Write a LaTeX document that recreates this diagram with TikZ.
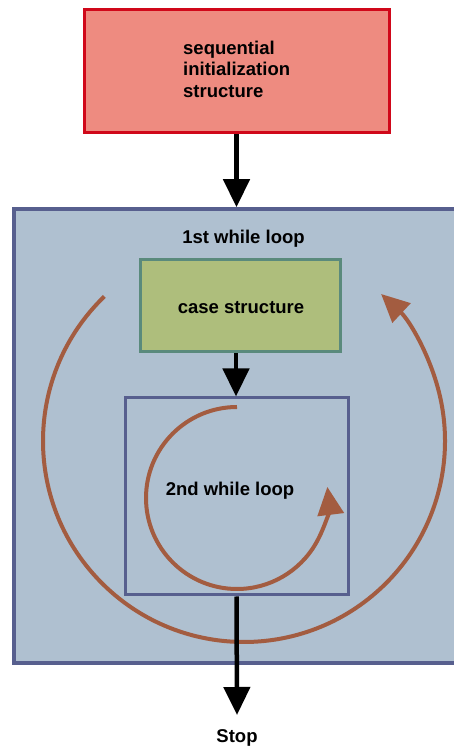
\documentclass[tikz,border=0pt]{standalone}
\usepackage{fontspec}
\setmainfont{Liberation Sans}
\usetikzlibrary{arrows.meta}

\definecolor{initfill}{HTML}{EE8B80}
\definecolor{initline}{HTML}{D0081A}
\definecolor{loopfill}{HTML}{AFC0D0}
\definecolor{loopline}{HTML}{575F8E}
\definecolor{casefill}{HTML}{AEBE7C}
\definecolor{caseline}{HTML}{5A8A7C}
\definecolor{cycle}{HTML}{A35C40}

\tikzset{
  lbl/.style={font=\fontsize{18.5}{21.5}\selectfont\bfseries, inner sep=0pt},
  box/.style={rectangle, inner sep=0pt, line width=3pt},
  flow/.style={line width=4.5pt, -{Triangle[width=26pt,length=28pt]}},
  turn/.style={cycle, line width=4pt, -{Triangle[width=26pt,length=28pt]}},
}

\begin{document}
\begin{tikzpicture}[x=1pt, y=1pt]
  \useasboundingbox (0,0) rectangle (454,746);
  \clip (0,0) rectangle (454,746);
  \fill[white] (0,0) rectangle (454,746);

  % initialization block
  \node[box, draw=initline, fill=initfill, minimum width=305pt, minimum height=123pt]
    (init) at (236.5,674.5) {};
  \node[lbl, anchor=west, align=left] (inittext) at (183,677)
    {sequential\\initialization\\structure};

  % outer loop frame, open to the right
  \node[box, line width=3.5pt, draw=loopline, fill=loopfill, minimum width=466pt, minimum height=454pt]
    (loop1) at (247,310) {};
  \node[lbl] (loop1text) at (243.5,507) {1st while loop};

  % case block
  \node[box, draw=caseline, fill=casefill, minimum width=200pt, minimum height=92pt]
    (case) at (240,440) {};
  \node[lbl] (casetext) at (241,438) {case structure};

  % inner loop frame
  \node[box, draw=loopline, minimum width=223pt, minimum height=197pt]
    (loop2) at (236.5,249.5) {};
  \node[lbl] (loop2text) at (230,255) {2nd while loop};

  \node[lbl] (stop) at (237,8) {Stop};
  \coordinate (stoptip) at (237,31);

  % iteration arcs
  \coordinate (outerc) at (244,305);
  \coordinate (innerc) at (237,248);
  \draw[turn] ([shift={(134:201)}]outerc) arc[start angle=134, end angle=407, radius=201];
  \draw[turn] ([shift={(90:91)}]innerc) arc[start angle=90, end angle=367, radius=91];

  % control flow
  \draw[flow] (init.south) -- (init.south |- loop1.north);
  \draw[flow] ([xshift=-4pt]case.south) -- ([xshift=-4pt]case.south |- loop2.north);
  \draw[flow] (loop2.south) -- (stoptip);
\end{tikzpicture}
\end{document}
